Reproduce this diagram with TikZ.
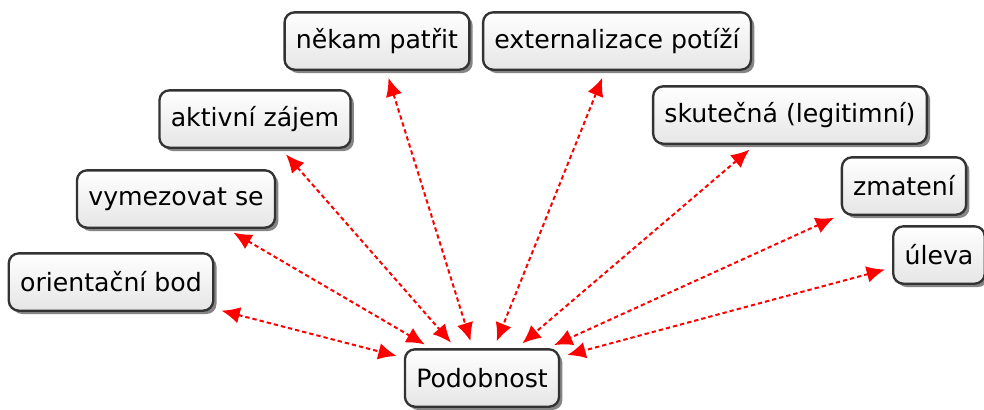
\documentclass[tikz,border=0pt]{standalone}
\usepackage{fontspec}
\setmainfont{DejaVu Sans}
\usetikzlibrary{arrows.meta,shadows}
\begin{document}
\begin{tikzpicture}[x=0.03cm,y=-0.03cm]
    \tikzset{% This is the style settings for boxes and links
    box/.style={rectangle,rounded corners=0.3cm,draw=black!80,line width=0.07cm,top color=white,bottom color=gray!20,minimum height=1.72cm,inner xsep=0.34cm,font=\fontsize{21.5}{25}\selectfont,drop shadow={shadow xshift=0.1cm,shadow yshift=-0.1cm,fill=black!60,opacity=0.8}},
    c1/.style={<->,>={Latex[length=0.55cm,width=0.5cm]},red,line width=0.06cm,dash pattern=on 0.13cm off 0.09cm,shorten <=0.22cm,shorten >=0.22cm},
    }
    \useasboundingbox (0,0) rectangle (984,409);
    % Nodes
    \node[box] (n0) at (482,378) {Podobnost};
    \node[box] (n1) at (111,282) {orientační bod};
    \node[box] (n2) at (176,199) {vymezovat se};
    \node[box] (n3) at (255,119) {aktivní zájem};
    \node[box] (n4) at (377,41) {někam patřit};
    \node[box] (n5) at (617,41) {externalizace potíží};
    \node[box] (n6) at (790,115) {skutečná (legitimní)};
    \node[box] (n7) at (904,186) {zmatení};
    \node[box] (n8) at (939,255) {úleva};

    %Edges
    \draw[c1] (n1) -- (n0);
    \draw[c1] (n2) -- (n0);
    \draw[c1] (n3) -- (n0);
    \draw[c1] (n4) -- (n0);
    \draw[c1] (n5) -- (n0);
    \draw[c1] (n6) -- (n0);
    \draw[c1] (n7) -- (n0);
    \draw[c1] (n8) -- (n0);
\end{tikzpicture}
\end{document}
